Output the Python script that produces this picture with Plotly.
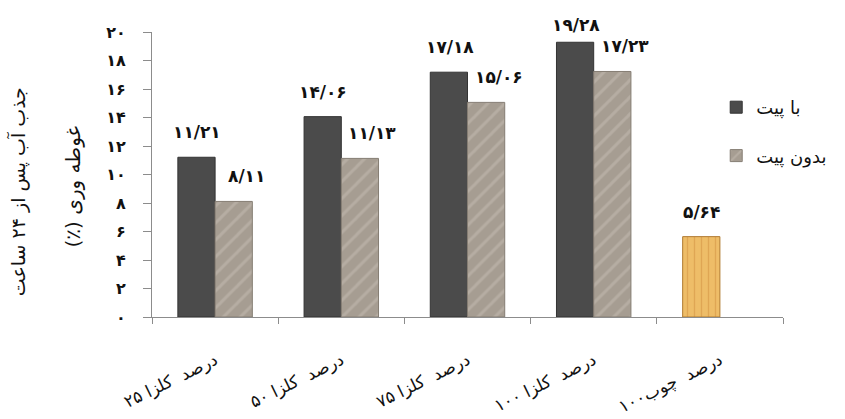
import plotly.graph_objects as go

categories = ["درصد  کلزا ۲۵", "درصد  کلزا ۵۰", "درصد  کلزا ۷۵", "درصد  کلزا ۱۰۰", "درصد  چوب۱۰۰"]
with_peat = [11.21, 14.06, 17.18, 19.28, None]
without_peat = [8.11, 11.13, 15.06, 17.23, None]
wood = [None, None, None, None, 5.64]
y_ticks = [0, 2, 4, 6, 8, 10, 12, 14, 16, 18, 20]

series_names = ["با پیت", "بدون پیت"]
ytitle_1 = "جذب آب پس از ۲۴ ساعت"
ytitle_2 = "غوطه وری (٪)\u200f"

FA = str.maketrans("0123456789", "۰۱۲۳۴۵۶۷۸۹")


def fa_num(v, dec=True):
    s = f"{v:.2f}".replace(".", "/") if dec else str(v)
    return s.translate(FA)


FONT = "DejaVu Sans"
Y_MAX = 20
PLOT_H = 285
TOP = 32

fig = go.Figure()
fig.add_trace(go.Bar(
    x=categories, y=with_peat, name=series_names[0], offsetgroup="a",
    legendgroup="a",
    marker=dict(color="#4b4b4b", line=dict(color="#333333", width=1)),
))
fig.add_trace(go.Bar(
    x=categories, y=without_peat, name=series_names[1], offsetgroup="b",
    legendgroup="b",
    marker=dict(color="#a69d92", line=dict(color="#857d73", width=1),
                pattern=dict(shape="/", fgcolor="#c6beb3", bgcolor="#a69d92",
                             size=12, solidity=0.25)),
))
fig.add_trace(go.Bar(
    x=categories, y=wood, name="wood", offsetgroup="a", showlegend=False,
    marker=dict(color="#e8b25a", line=dict(color="#b07a30", width=1),
                pattern=dict(shape="|", fgcolor="#d09040", bgcolor="#eebd68",
                             size=7, solidity=0.2)),
))


def label_shift(v):
    # keep labels at least ~25px below the top of the figure
    room = TOP + (Y_MAX - v) / Y_MAX * PLOT_H - 25
    return min(25, room)


annotations = []
for vals, xs in ((with_peat, -18), (without_peat, 31), (wood, -18)):
    for c, v in zip(categories, vals):
        if v is None:
            continue
        annotations.append(dict(
            x=c, y=v, xref="x", yref="y", text=fa_num(v), showarrow=False,
            xshift=xs, yshift=label_shift(v), yanchor="middle",
            font=dict(family=FONT, size=17, color="#111111", weight="bold"),
        ))

annotations.append(dict(
    x=-0.213, y=0.44, xref="paper", yref="paper", text=ytitle_1,
    textangle=-90, showarrow=False, xanchor="center", yanchor="middle",
    font=dict(family=FONT, size=19, color="#111111"),
))
annotations.append(dict(
    x=-0.125, y=0.455, xref="paper", yref="paper", text=ytitle_2,
    textangle=-90, showarrow=False, xanchor="center", yanchor="middle",
    font=dict(family=FONT, size=20, color="#111111"),
))

fig.update_layout(
    width=845, height=419,
    margin=dict(l=152, r=62, t=TOP, b=102),
    paper_bgcolor="white", plot_bgcolor="white",
    barmode="group", bargap=0.41, bargroupgap=0,
    font=dict(family=FONT, color="#111111"),
    showlegend=True,
    legend=dict(x=1.078, y=0.80, xanchor="right", yanchor="top",
                font=dict(family=FONT, size=18, color="#111111"),
                tracegroupgap=22, bgcolor="rgba(0,0,0,0)"),
    annotations=annotations,
    xaxis=dict(
        type="category", showline=True, linecolor="#8c8c8c", linewidth=1,
        ticks="outside", ticklen=6, tickcolor="#8c8c8c", tickson="boundaries",
        showgrid=False, tickangle=-26, ticklabelstandoff=26, automargin=False,
        tickfont=dict(family=FONT, size=17, color="#111111"),
    ),
    yaxis=dict(
        range=[0, Y_MAX], showline=True, linecolor="#8c8c8c", linewidth=1,
        ticks="outside", ticklen=8, tickcolor="#8c8c8c", showgrid=False,
        zeroline=False, tickvals=y_ticks, automargin=False,
        ticktext=[fa_num(t, dec=False) for t in y_ticks],
        ticklabelstandoff=14,
        tickfont=dict(family=FONT, size=16, color="#111111", weight="bold"),
    ),
)

fig.write_html(
    "out.html",
    config={"displayModeBar": False},
    post_script="document.body.style.margin='0';document.body.style.overflow='hidden';",
)
